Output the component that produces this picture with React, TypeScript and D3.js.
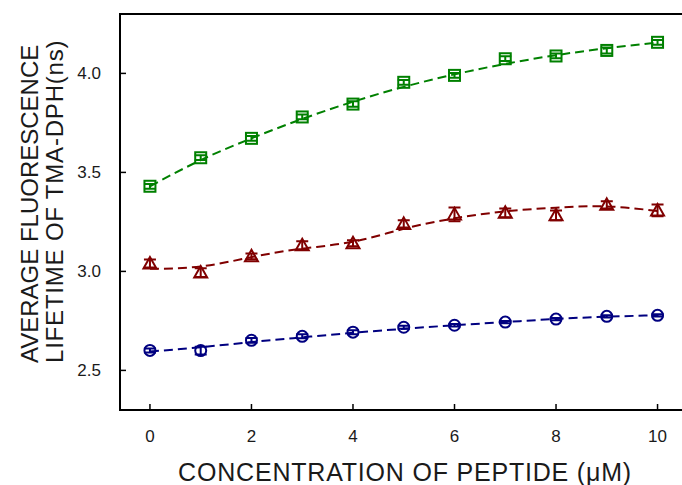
import React, { useEffect, useRef } from "react";
import * as d3 from "d3";

const WIDTH = 682;
const HEIGHT = 485;

// concentration of peptide (uM)
const conc: number[] = [0, 1, 2, 3, 4, 5, 6, 7, 8, 9, 10];

// measured lifetimes (ns) and their error half-widths
const greenVals: number[] = [3.43, 3.574, 3.672, 3.78, 3.845, 3.955, 3.99, 4.074, 4.088, 4.116, 4.157];
const greenErr: number[] = [0.012, 0.012, 0.012, 0.012, 0.014, 0.012, 0.012, 0.012, 0.012, 0.015, 0.012];
const redVals: number[] = [3.04, 2.994, 3.076, 3.132, 3.142, 3.24, 3.288, 3.296, 3.283, 3.336, 3.308];
const redErr: number[] = [0.02, 0.022, 0.015, 0.02, 0.015, 0.018, 0.035, 0.022, 0.025, 0.018, 0.03];
const blueVals: number[] = [2.601, 2.6, 2.652, 2.672, 2.693, 2.718, 2.728, 2.744, 2.759, 2.773, 2.778];
const blueErr: number[] = [0.01, 0.02, 0.012, 0.01, 0.01, 0.008, 0.006, 0.006, 0.006, 0.006, 0.006];

// dashed fitted curves read at each concentration
const greenFit: number[] = [3.43, 3.562, 3.672, 3.77, 3.857, 3.932, 3.995, 4.048, 4.092, 4.127, 4.156];
const redFit: number[] = [3.013, 3.025, 3.072, 3.115, 3.15, 3.215, 3.268, 3.303, 3.322, 3.328, 3.305];
const blueFit: number[] = [2.595, 2.617, 2.643, 2.667, 2.69, 2.71, 2.728, 2.744, 2.76, 2.771, 2.779];

const xTicks: number[] = [0, 2, 4, 6, 8, 10];
const yTicks: number[] = [2.5, 3.0, 3.5, 4.0];

const FONT = "Liberation Sans, Arial, Helvetica, sans-serif";
const TEXT_COLOR = "#1a1a1a";

const App: React.FC = () => {
  const ref = useRef<SVGSVGElement | null>(null);

  useEffect(() => {
    if (!ref.current) return;
    const svg = d3.select(ref.current);
    svg.selectAll("*").remove();

    const left = 120;
    const top = 14;
    const bottom = 410;

    const x = d3.scaleLinear().domain([-0.59, 10.6]).range([left, 688]);
    const y = d3.scaleLinear().domain([2.3, 4.3]).range([bottom, top]);

    // frame: left, bottom, top
    svg.append("path")
      .attr("d", `M${x.range()[1]},${top}H${left}V${bottom}H${x.range()[1]}`)
      .attr("fill", "none")
      .attr("stroke", "#000")
      .attr("stroke-width", 2);

    // x ticks (inside)
    xTicks.forEach((t) => {
      svg.append("line")
        .attr("x1", x(t)).attr("x2", x(t))
        .attr("y1", bottom).attr("y2", bottom - 6)
        .attr("stroke", "#000").attr("stroke-width", 1.5);
      svg.append("text")
        .attr("x", x(t)).attr("y", 442)
        .attr("text-anchor", "middle")
        .attr("font-family", FONT).attr("font-size", 17)
        .attr("fill", TEXT_COLOR)
        .text(String(t));
    });

    // y ticks (inside)
    yTicks.forEach((t) => {
      svg.append("line")
        .attr("x1", left).attr("x2", left + 6)
        .attr("y1", y(t)).attr("y2", y(t))
        .attr("stroke", "#000").attr("stroke-width", 1.5);
      svg.append("text")
        .attr("x", 101).attr("y", y(t) + 6)
        .attr("text-anchor", "end")
        .attr("font-family", FONT).attr("font-size", 17)
        .attr("fill", TEXT_COLOR)
        .text(t.toFixed(1));
    });

    // axis titles
    svg.append("text")
      .attr("x", 405).attr("y", 481)
      .attr("text-anchor", "middle")
      .attr("font-family", FONT).attr("font-size", 25)
      .attr("letter-spacing", 0.8)
      .attr("fill", TEXT_COLOR)
      .text("CONCENTRATION OF PEPTIDE (\u03BCM)");

    const yl = svg.append("g").attr("transform", "translate(0,363) rotate(-90)");
    yl.append("text")
      .attr("x", 0).attr("y", 38)
      .attr("font-family", FONT).attr("font-size", 24)
      .attr("fill", TEXT_COLOR)
      .text("AVERAGE FLUORESCENCE");
    yl.append("text")
      .attr("x", 0).attr("y", 63)
      .attr("font-family", FONT).attr("font-size", 24)
      .attr("letter-spacing", 0.8)
      .attr("fill", TEXT_COLOR)
      .text("LIFETIME OF TMA-DPH(ns)");

    const series = [
      { vals: greenVals, err: greenErr, fit: greenFit, color: "#008000", shape: "square" },
      { vals: redVals, err: redErr, fit: redFit, color: "#800000", shape: "triangle" },
      { vals: blueVals, err: blueErr, fit: blueFit, color: "#000080", shape: "circle" },
    ];

    const line = d3.line<number>()
      .x((_, i) => x(conc[i]))
      .y((d) => y(d))
      .curve(d3.curveNatural);

    series.forEach((s) => {
      const g = svg.append("g");
      g.append("path")
        .attr("d", line(s.fit) || "")
        .attr("fill", "none")
        .attr("stroke", s.color)
        .attr("stroke-width", 2)
        .attr("stroke-dasharray", "9,5");

      s.vals.forEach((v, i) => {
        const cx = x(conc[i]);
        const cy = y(v);
        const e = s.err[i];
        const y1 = y(v + e);
        const y2 = y(v - e);
        const cap = 6;
        // error bar
        g.append("path")
          .attr("d", `M${cx},${y1}V${y2}M${cx - cap},${y1}H${cx + cap}M${cx - cap},${y2}H${cx + cap}`)
          .attr("stroke", s.color).attr("stroke-width", 2).attr("fill", "none");
        // marker
        if (s.shape === "square") {
          g.append("rect")
            .attr("x", cx - 5.5).attr("y", cy - 5.5)
            .attr("width", 11).attr("height", 11)
            .attr("fill", "none").attr("stroke", s.color).attr("stroke-width", 2);
        } else if (s.shape === "triangle") {
          g.append("path")
            .attr("d", `M${cx},${cy - 6.5}L${cx + 6.5},${cy + 5}L${cx - 6.5},${cy + 5}Z`)
            .attr("fill", "none").attr("stroke", s.color).attr("stroke-width", 2);
        } else {
          g.append("circle")
            .attr("cx", cx).attr("cy", cy).attr("r", 5.5)
            .attr("fill", "none").attr("stroke", s.color).attr("stroke-width", 2);
        }
      });
    });
  }, []);

  return (
    <svg
      ref={ref}
      width={WIDTH}
      height={HEIGHT}
      style={{ position: "absolute", left: 0, top: 0, background: "#fff" }}
    />
  );
};

export default App;
